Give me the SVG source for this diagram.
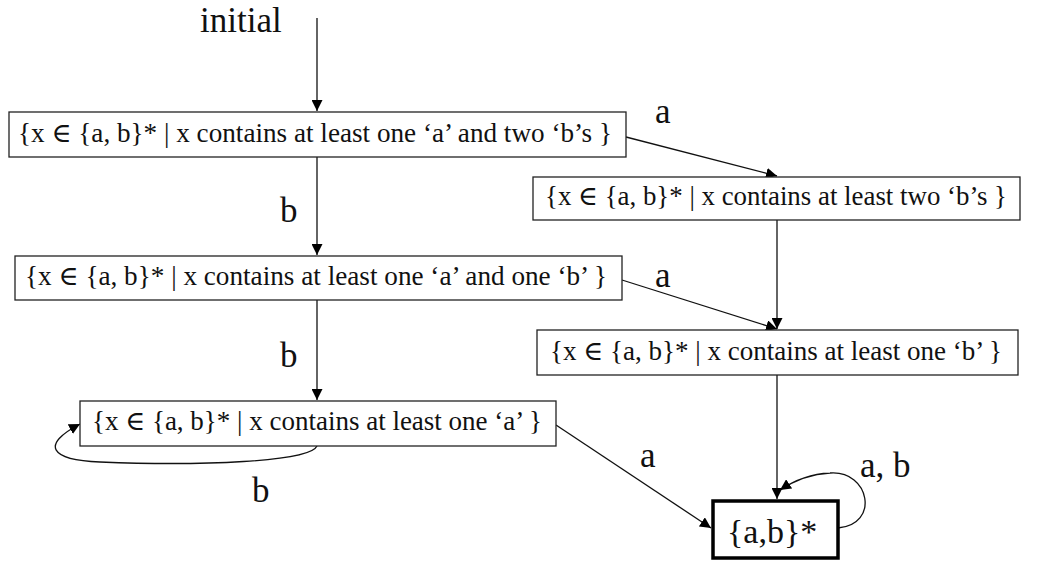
<svg xmlns="http://www.w3.org/2000/svg" width="1041" height="561" viewBox="0 0 1041 561">
<style>
.box{fill:#fff;stroke:#222;stroke-width:1.3}
.fin{fill:#fff;stroke:#000;stroke-width:3.5}
text{font-family:'Liberation Serif','Times New Roman','DejaVu Serif',serif;fill:#111}
.t{font-size:27px}
.lbl{font-size:35px}
.e{fill:none;stroke:#111;stroke-width:1.3}
</style>
<defs>
<marker id="ah" viewBox="0 0 10 10" refX="10" refY="5" markerWidth="11" markerHeight="11" markerUnits="userSpaceOnUse" orient="auto">
<path d="M0,0 L10,5 L0,10 z" fill="#000"/>
</marker>
</defs>
<rect width="1041" height="561" fill="#fff"/>
<g id="connectors">
<path class="e" d="M317,18 L317,111" marker-end="url(#ah)"/>
<path class="e" d="M317,157 L317,255" marker-end="url(#ah)"/>
<path class="e" d="M317,300 L317,400" marker-end="url(#ah)"/>
<path class="e" d="M317,446 C310,462 200,466 100,462 C50,460 40,445 80,424" marker-end="url(#ah)"/>
<path class="e" d="M626,137 L777,176" marker-end="url(#ah)"/>
<path class="e" d="M777,220 L777,329" marker-end="url(#ah)"/>
<path class="e" d="M622,280 L777,329" marker-end="url(#ah)"/>
<path class="e" d="M777,375 L777,499" marker-end="url(#ah)"/>
<path class="e" d="M556,425 L711,528" marker-end="url(#ah)"/>
<path class="e" d="M838,528 C880,525 870,470 830,473 C810,474 795,480 780,490" marker-end="url(#ah)"/>
</g>
<g id="labels">
<text class="lbl" x="200" y="32">initial</text>
<text class="lbl" x="280" y="222">b</text>
<text class="lbl" x="280" y="367">b</text>
<text class="lbl" x="252" y="502">b</text>
<text class="lbl" x="655" y="123">a</text>
<text class="lbl" x="655" y="287">a</text>
<text class="lbl" x="640" y="467">a</text>
<text class="lbl" x="860" y="477">a, b</text>
</g>
<g id="n1">
<rect class="box" x="9" y="112" width="617" height="45"/>
<text class="t" x="18" y="142" textLength="594" lengthAdjust="spacingAndGlyphs">{x ∈ {a, b}* | x contains at least one ‘a’ and two ‘b’s }</text>
</g>
<g id="n2">
<rect class="box" x="533" y="177" width="487" height="43"/>
<text class="t" x="545" y="205" textLength="462" lengthAdjust="spacingAndGlyphs">{x ∈ {a, b}* | x contains at least two ‘b’s }</text>
</g>
<g id="n3">
<rect class="box" x="15" y="256" width="607" height="44"/>
<text class="t" x="25" y="285" textLength="582" lengthAdjust="spacingAndGlyphs">{x ∈ {a, b}* | x contains at least one ‘a’ and one ‘b’ }</text>
</g>
<g id="n4">
<rect class="box" x="537" y="330" width="481" height="45"/>
<text class="t" x="550" y="360" textLength="452" lengthAdjust="spacingAndGlyphs">{x ∈ {a, b}* | x contains at least one ‘b’ }</text>
</g>
<g id="n5">
<rect class="box" x="80" y="401" width="476" height="45"/>
<text class="t" x="92" y="430" textLength="450" lengthAdjust="spacingAndGlyphs">{x ∈ {a, b}* | x contains at least one ‘a’ }</text>
</g>
<g id="n6">
<rect class="fin" x="713" y="501" width="125" height="57"/>
<text class="lbl" x="727" y="543" style="font-size:34px">{a,b}*</text>
</g>
</svg>
